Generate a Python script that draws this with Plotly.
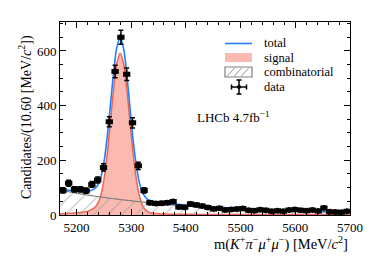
import plotly.graph_objects as go

# ---------------- data ----------------
bin_width = 10.60
x_min, x_max = 5170.0, 5700.0
counts = [90, 116, 94, 94, 89, 112, 128, 174, 341, 525,
          650, 515, 337, 180, 90, 45, 42, 43, 45, 49,
          29, 28, 40, 37, 33, 27, 22, 25, 18, 20,
          22, 24, 17, 16, 19, 17, 14, 16, 14, 18,
          20, 17, 16, 18, 15, 26, 12, 11, 10, 14]
bin_centers = [x_min + bin_width * (i + 0.5) for i in range(len(counts))]
count_err = [c ** 0.5 for c in counts]

# model curves
curve_x = [5170, 5190, 5210, 5225, 5235, 5243, 5250, 5256, 5262, 5268,
           5274, 5280, 5286, 5292, 5298, 5304, 5310, 5316, 5322, 5330,
           5340, 5360, 5400, 5450, 5500, 5550, 5600, 5650, 5700]
signal_y = [4, 6, 10, 17, 30, 60, 125, 218, 338, 461,
            556, 592, 556, 461, 338, 218, 125, 63, 30, 12,
            6, 3.5, 2.5, 2, 2, 1.5, 1.5, 1.5, 1.2]
comb_y = [91, 83.5, 76.5, 71.7, 68.7, 66.4, 64.3, 62.7, 61.0, 59.5,
          57.9, 56.5, 55.1, 53.7, 52.3, 50.9, 49.6, 48.4, 47.1, 45.5,
          43.5, 39.8, 33.4, 26.8, 21.6, 17.4, 14.0, 11.3, 9.1]
total_y = [95, 89.5, 86.5, 88.7, 98.7, 126.4, 189.3, 280.7, 399, 520.5,
           613.9, 648.5, 611.1, 514.7, 390.3, 268.9, 174.6, 111.4, 77.1, 57.5,
           49.5, 43.3, 35.9, 28.8, 23.6, 18.9, 15.5, 12.8, 10.3]

x_ticks = [5200, 5300, 5400, 5500, 5600, 5700]
y_ticks = [0, 200, 400, 600]
legend_labels = ["total", "signal", "combinatorial", "data"]

BLUE = "#1f7fff"
PINK = "#fbbab1"
RED = "#f2634f"
GRAY = "#808080"
HATCH = "#9a9a9a"
FONT = "Liberation Serif, Times New Roman, serif"

# ---------------- figure geometry (pixels) ----------------
W, H = 374, 264
ML, MR, MT, MB = 60, 24, 22, 49
PW, PH = W - ML - MR, H - MT - MB


def px(xp):
    return (xp - ML) / PW


def py(yp):
    return (H - MB - yp) / PH


fig = go.Figure()

# signal (filled)
fig.add_trace(go.Scatter(x=curve_x, y=signal_y, mode="lines", line=dict(color=RED, width=1.5, shape="spline"),
                         fill="tozeroy", fillcolor=PINK, showlegend=False, hoverinfo="skip"))
# combinatorial (hatched)
fig.add_trace(go.Scatter(x=curve_x, y=comb_y, mode="lines", line=dict(color=GRAY, width=1.2, shape="spline"),
                         fill="tozeroy", fillcolor="rgba(0,0,0,0)",
                         fillpattern=dict(shape="/", fgcolor=HATCH, bgcolor="rgba(0,0,0,0)", size=10, solidity=0.14),
                         showlegend=False, hoverinfo="skip"))
# total
fig.add_trace(go.Scatter(x=curve_x, y=total_y, mode="lines", line=dict(color=BLUE, width=1.6, shape="spline"),
                         showlegend=False, hoverinfo="skip"))
# data
fig.add_trace(go.Scatter(x=bin_centers, y=counts, mode="markers",
                         marker=dict(color="black", size=6),
                         error_y=dict(type="data", array=count_err, color="black", thickness=1.5, width=2.5),
                         error_x=dict(type="data", array=[bin_width / 2] * len(counts), color="black", thickness=1.5, width=2.5),
                         showlegend=False))

axis_common = dict(showline=True, linecolor="black", linewidth=1, mirror="allticks",
                   ticks="inside", ticklen=6, tickwidth=1, tickcolor="black",
                   showgrid=False, zeroline=False, automargin=False,
                   tickfont=dict(family=FONT, size=13, color="black"))

fig.update_xaxes(range=[x_min, x_max], tickvals=x_ticks,
                 minor=dict(ticks="inside", ticklen=3, dtick=20, tick0=5200, tickcolor="black", showgrid=False),
                 **axis_common)
fig.update_yaxes(range=[0, 706], tickvals=y_ticks,
                 minor=dict(ticks="inside", ticklen=3, dtick=50, tick0=0, tickcolor="black", showgrid=False),
                 **axis_common)

# axis titles (placed at the axis ends, LHCb style)
fig.add_annotation(x=1.0, y=py(243.5), xref="paper", yref="paper", xanchor="right", yanchor="middle",
                   showarrow=False, font=dict(family=FONT, size=14.5, color="black"),
                   text="m(<i>K</i><sup>+</sup><i>π</i><sup>−</sup><i>μ</i><sup>+</sup><i>μ</i><sup>−</sup>) [MeV/<i>c</i><sup>2</sup>]")
fig.add_annotation(x=px(25), y=py(117), xref="paper", yref="paper", xanchor="center", yanchor="middle",
                   textangle=-90, showarrow=False, font=dict(family=FONT, size=14, color="black"),
                   text="Candidates/(10.60 [MeV/<i>c</i><sup>2</sup>])")

# experiment label
fig.add_annotation(x=px(272), y=py(117), xref="paper", yref="paper", showarrow=False,
                   text="LHCb 4.7fb<sup>−1</sup>", font=dict(family=FONT, size=13, color="black"))

# ---------------- hand-drawn legend ----------------
sym_x0, sym_x1, txt_x = 225, 252, 262
row_y = [43.5, 57.5, 72, 87]
for label, yy in zip(legend_labels, row_y):
    fig.add_annotation(x=px(txt_x), y=py(yy), xref="paper", yref="paper", xanchor="left", yanchor="middle",
                       showarrow=False, text=label, font=dict(family=FONT, size=12.5, color="black"))

shapes = []
# total: blue line
shapes.append(dict(type="line", xref="paper", yref="paper", x0=px(sym_x0), x1=px(sym_x1),
                   y0=py(row_y[0]), y1=py(row_y[0]), line=dict(color=BLUE, width=1.6)))
# signal: pink box
shapes.append(dict(type="rect", xref="paper", yref="paper", x0=px(sym_x0), x1=px(sym_x1),
                   y0=py(row_y[1] - 4.5), y1=py(row_y[1] + 4.5), fillcolor=PINK, line=dict(width=0)))
# combinatorial: hatched box
cy = row_y[2]
shapes.append(dict(type="rect", xref="paper", yref="paper", x0=px(sym_x0), x1=px(sym_x1),
                   y0=py(cy - 5), y1=py(cy + 5), fillcolor="white", line=dict(color=GRAY, width=1.2)))
for k in (2, 9, 16):
    shapes.append(dict(type="line", xref="paper", yref="paper", x0=px(sym_x0 + k), x1=px(sym_x0 + k + 8),
                       y0=py(cy + 4.3), y1=py(cy - 4.3), line=dict(color=HATCH, width=1)))
# data: error-bar cross
dx, dy = 239, row_y[3]
shapes.append(dict(type="line", xref="paper", yref="paper", x0=px(dx), x1=px(dx), y0=py(dy - 7), y1=py(dy + 7),
                   line=dict(color="black", width=1.5)))
shapes.append(dict(type="line", xref="paper", yref="paper", x0=px(dx - 7.5), x1=px(dx + 7.5), y0=py(dy), y1=py(dy),
                   line=dict(color="black", width=1.5)))
for yy in (dy - 7, dy + 7):
    shapes.append(dict(type="line", xref="paper", yref="paper", x0=px(dx - 2.5), x1=px(dx + 2.5), y0=py(yy), y1=py(yy),
                       line=dict(color="black", width=1.5)))
for xx in (dx - 7.5, dx + 7.5):
    shapes.append(dict(type="line", xref="paper", yref="paper", x0=px(xx), x1=px(xx), y0=py(dy - 2.5), y1=py(dy + 2.5),
                       line=dict(color="black", width=1.5)))
shapes.append(dict(type="circle", xref="paper", yref="paper", x0=px(dx - 2), x1=px(dx + 2), y0=py(dy - 2), y1=py(dy + 2),
                   fillcolor="black", line=dict(color="black", width=0)))

fig.update_layout(width=W, height=H, margin=dict(l=ML, r=MR, t=MT, b=MB),
                  paper_bgcolor="white", plot_bgcolor="white",
                  showlegend=False, shapes=shapes,
                  font=dict(family=FONT))

fig.write_html("out.html", config={"displayModeBar": False},
               post_script="document.body.style.margin='0';document.body.style.padding='0';")
